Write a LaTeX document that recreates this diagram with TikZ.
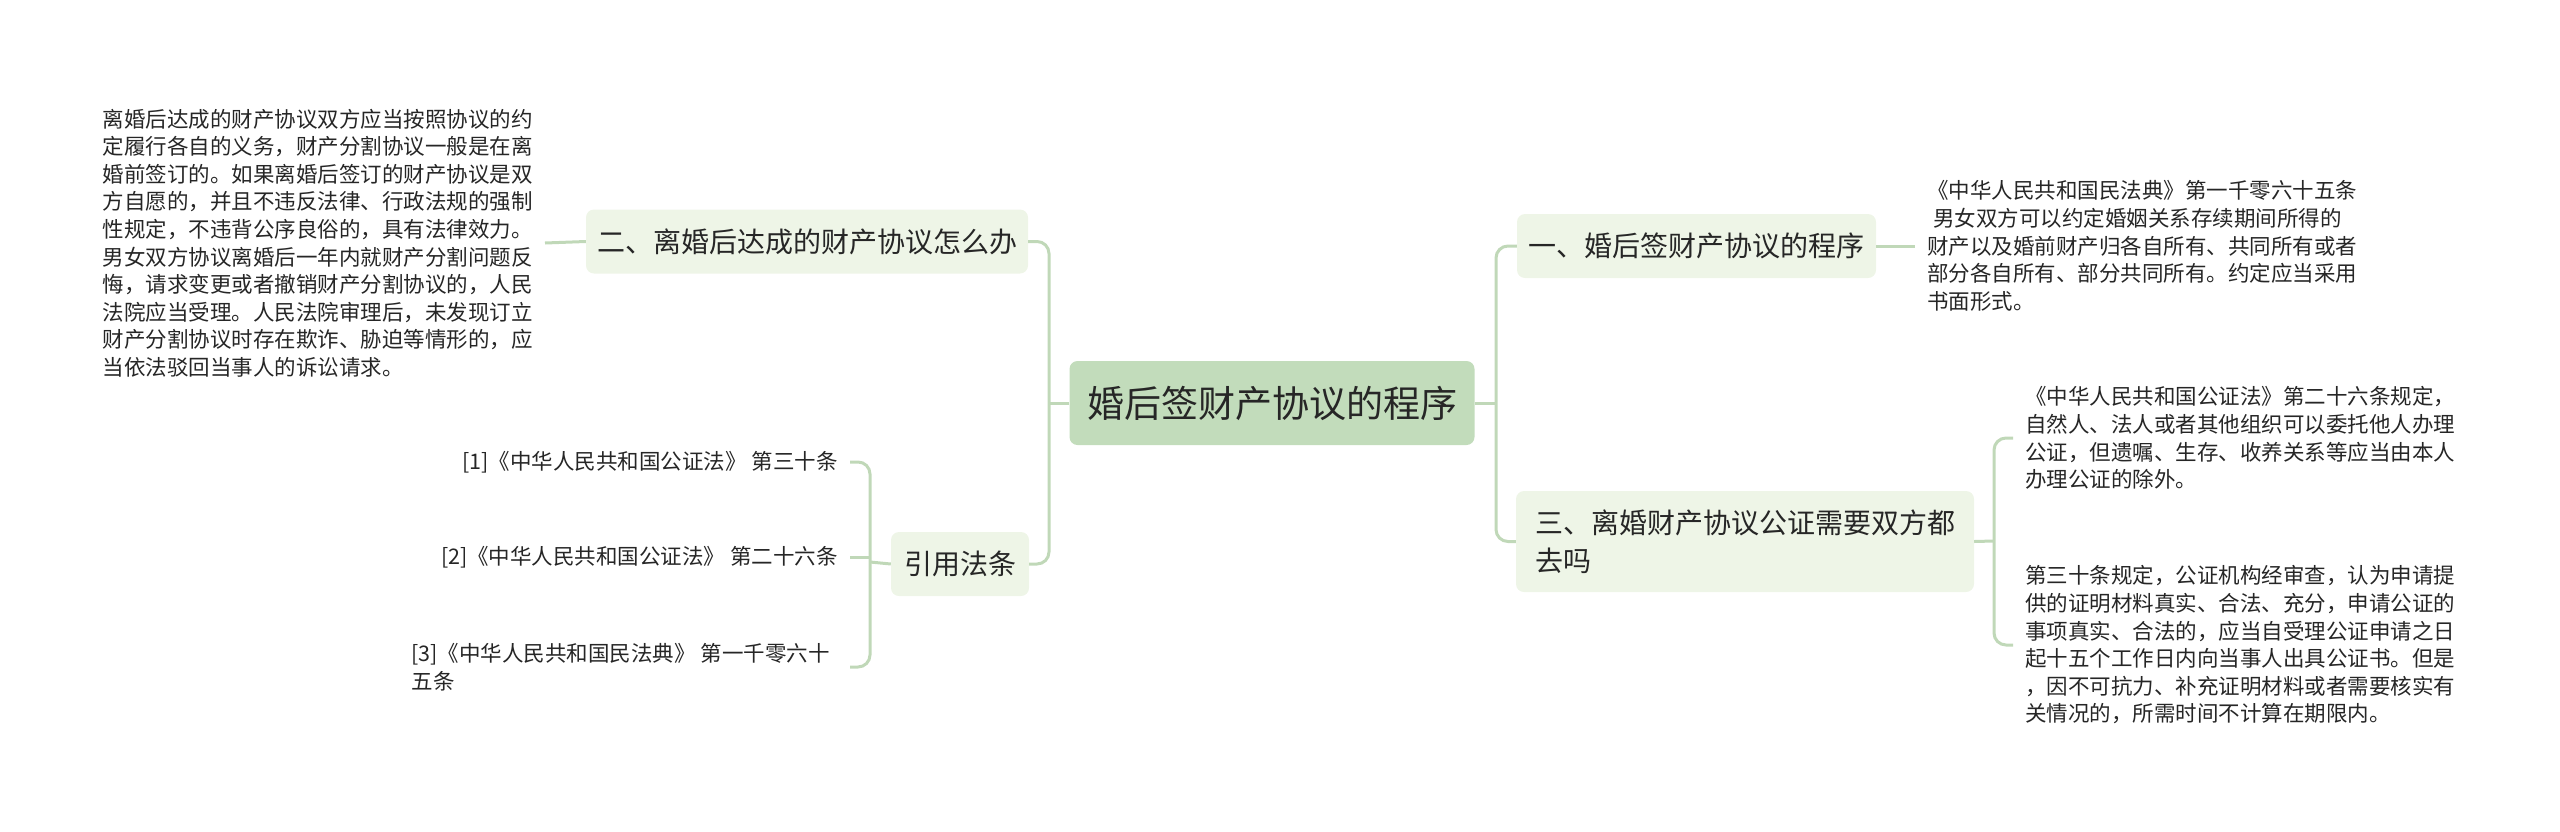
\documentclass[tikz,border=0pt]{standalone}
\usepackage{fontspec}
\newfontfamily\cjk{Noto Sans CJK SC}
\definecolor{rootgreen}{HTML}{C2DCBB}
\definecolor{topicgreen}{HTML}{EEF5E7}
\definecolor{linkgreen}{HTML}{C0D8B8}
\definecolor{inkgrey}{HTML}{262626}
\tikzset{
  mapnode/.style = {align=left, inner sep=0pt, text=inkgrey, font=\cjk},
  rootnode/.style = {mapnode, align=center, fill=rootgreen, rounded corners=8pt, minimum width=405pt, minimum height=84pt, font=\cjk\fontsize{37}{44}\selectfont},
  topic/.style = {mapnode, fill=topicgreen, rounded corners=8pt, minimum height=64pt, font=\cjk\fontsize{28}{38}\selectfont},
  leaf/.style = {mapnode, inner xsep=12pt, font=\cjk\fontsize{21.5}{27.6}\selectfont},
  link/.style = {draw=linkgreen, line width=3pt, rounded corners=12pt}
}
\begin{document}
\begin{tikzpicture}[x=1pt, y=-1pt]
\useasboundingbox (0,0) rectangle (2560,831);
\node [rootnode] (root) at (1272,403) {婚后签财产协议的程序};
\node [topic, minimum width=359pt] (procedure) at (1696.5,246) {一、婚后签财产协议的程序};
\node [topic, minimum width=442pt] (after) at (807,241.5) {二、离婚后达成的财产协议怎么办};
\node [topic, minimum width=458pt, minimum height=101pt] (notary) at (1745,541.5) {三、离婚财产协议公证需要双方都\\去吗};
\node [topic, minimum width=138pt] (cite) at (960,564) {引用法条};

\node [leaf, anchor=west] (proctext) at (1915,246) {《中华人民共和国民法典》第一千零六十五条\\\hspace*{6pt}男女双方可以约定婚姻关系存续期间所得的\\财产以及婚前财产归各自所有、共同所有或者\\部分各自所有、部分共同所有。约定应当采用\\书面形式。};
\node [leaf, anchor=east] (aftertext) at (545,243) {离婚后达成的财产协议双方应当按照协议的约\\定履行各自的义务，财产分割协议一般是在离\\婚前签订的。如果离婚后签订的财产协议是双\\方自愿的，并且不违反法律、行政法规的强制\\性规定，不违背公序良俗的，具有法律效力。\\男女双方协议离婚后一年内就财产分割问题反\\悔，请求变更或者撤销财产分割协议的，人民\\法院应当受理。人民法院审理后，未发现订立\\财产分割协议时存在欺诈、胁迫等情形的，应\\当依法驳回当事人的诉讼请求。};
\node [leaf, anchor=west] (notarysix) at (2013,438) {《中华人民共和国公证法》第二十六条规定，\\自然人、法人或者其他组织可以委托他人办理\\公证，但遗嘱、生存、收养关系等应当由本人\\办理公证的除外。};
\node [leaf, anchor=west] (notarythirty) at (2013,645) {第三十条规定，公证机构经审查，认为申请提\\供的证明材料真实、合法、充分，申请公证的\\事项真实、合法的，应当自受理公证申请之日\\起十五个工作日内向当事人出具公证书。但是\\，因不可抗力、补充证明材料或者需要核实有\\关情况的，所需时间不计算在期限内。};
\node [leaf, anchor=east, align=right] (refone) at (850,462) {[1]《中华人民共和国公证法》 第三十条};
\node [leaf, anchor=east, align=right] (reftwo) at (850,557) {[2]《中华人民共和国公证法》 第二十六条};
\node [leaf, anchor=east, inner xsep=20pt] (refthree) at (850,667) {[3]《中华人民共和国民法典》 第一千零六十\\五条};

\coordinate (lfork) at (1049,403);
\coordinate (rfork) at (1496,403);
\coordinate (nfork) at (1994,541);
\coordinate (cfork) at (870,562);

\draw [link] (root.west) -- (lfork);
\draw [link] (after.east) -| (lfork) |- (cite.east);
\draw [link] (root.east) -- (rfork);
\draw [link] (procedure.west) -| (rfork) |- (notary.west);
\draw [link] (procedure.east) -- (proctext.west);
\draw [link] (aftertext.east) -- (after.west);
\draw [link] (notary.east) -- (nfork);
\draw [link] (notarysix.west) -| (nfork) |- (notarythirty.west);
\draw [link] (cite.west) -- (cfork);
\draw [link] (refone.east) -| (cfork) |- (refthree.east);
\draw [link] (reftwo.east) -- (cfork |- reftwo.east);
\end{tikzpicture}
\end{document}
